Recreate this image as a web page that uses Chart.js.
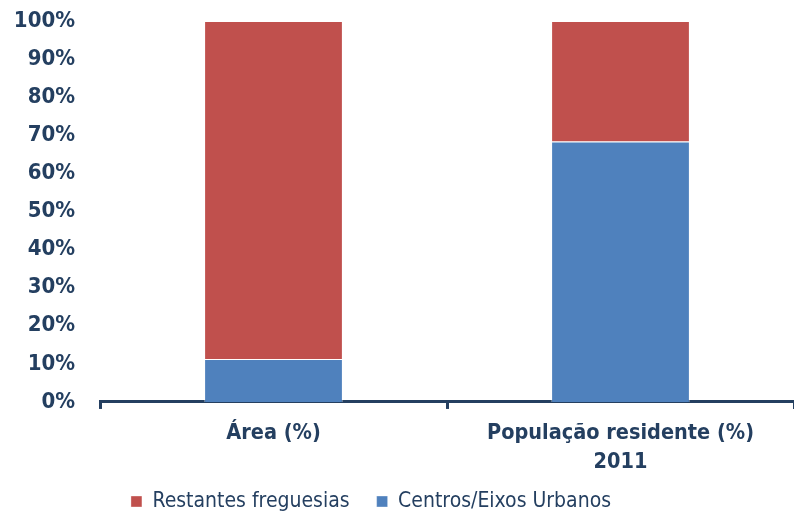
<!DOCTYPE html>
<html>
<head>
<meta charset="utf-8">
<script src="https://cdn.jsdelivr.net/npm/chart.js@4/dist/chart.umd.min.js"></script>
<style>
  html, body { margin: 0; padding: 0; background: #fff; }
  #wrap { width: 794px; height: 513px; }
</style>
</head>
<body>
<div id="wrap"><canvas id="chart" width="794" height="513"></canvas></div>
<script>
const categories = [['Área (%)'], ['População residente (%)', '2011']];
const centrosValues = [11.3, 68.4];
const restantesValues = [88.7, 31.6];
const seriesNames = ['Centros/Eixos Urbanos', 'Restantes freguesias'];

const navy = '#243f60';
const fontFamily = '"DejaVu Sans Condensed", "DejaVu Sans", sans-serif';

// legend in the original sits a little left of centre and close to the labels
const legendShift = {
    id: 'legendShift',
    afterLayout(chart) {
        const lg = chart.legend;
        lg.left -= 26;
        lg.right -= 26;
        lg.top -= 23;
        lg.bottom -= 23;
    }
};

const ctx = document.getElementById('chart').getContext('2d');
const chart = new Chart(ctx, {
    type: 'bar',
    data: {
        labels: categories,
        datasets: [{
            label: seriesNames[0],
            data: centrosValues,
            backgroundColor: '#4f81bd',
            borderColor: 'rgba(255,255,255,0.35)',
            borderWidth: 1
        }, {
            label: seriesNames[1],
            data: restantesValues,
            backgroundColor: '#c0504d',
            borderColor: 'rgba(255,255,255,0.35)',
            borderWidth: 1
        }]
    },
    options: {
        responsive: false,
        animation: false,
        categoryPercentage: 1,
        barPercentage: 0.4,
        layout: { padding: { top: 21, right: 0, left: 0, bottom: -32 } },
        plugins: {
            legend: {
                position: 'bottom',
                reverse: true,
                labels: {
                    color: navy,
                    boxWidth: 11,
                    boxHeight: 11,
                    padding: 27,
                    font: { family: fontFamily, size: 21 }
                }
            },
            tooltip: { enabled: false }
        },
        scales: {
            x: {
                stacked: true,
                offset: true,
                grid: {
                    display: true,
                    drawOnChartArea: false,
                    color: navy,
                    lineWidth: 3,
                    tickLength: 7
                },
                border: { color: navy, width: 3 },
                ticks: {
                    color: navy,
                    padding: 10,
                    font: { family: fontFamily, size: 21.5, weight: 'bold', lineHeight: 1.35 }
                }
            },
            y: {
                stacked: true,
                min: 0,
                max: 100,
                grid: { display: false },
                border: { display: false },
                afterFit(scale) {
                    scale.width = 100;
                    scale.paddingTop = 0;
                },
                ticks: {
                    stepSize: 10,
                    color: navy,
                    padding: 17,
                    font: { family: fontFamily, size: 22, weight: 'bold' },
                    callback: v => v + '%'
                }
            }
        }
    },
    plugins: [legendShift]
});
</script>
</body>
</html>
